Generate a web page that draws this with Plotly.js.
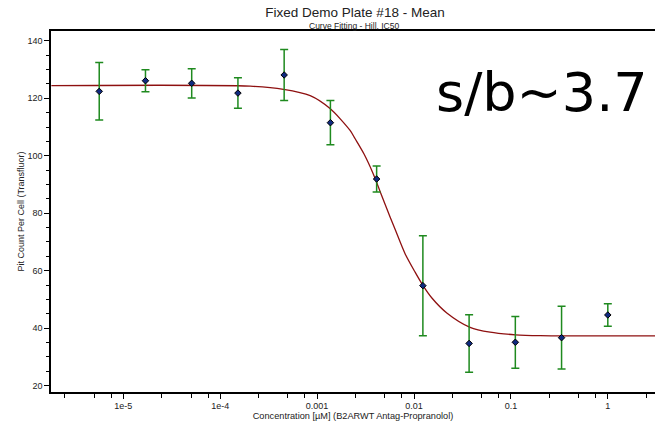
<!DOCTYPE html>
<html><head><meta charset="utf-8">
<script src="https://cdn.plot.ly/plotly-3.0.1.min.js"></script>
<style>html,body{margin:0;padding:0;background:#fff}#chart{width:655px;height:423px}</style>
</head><body><div id="chart"></div>
<script>
// Measured points (mean ± error) — concentration in µM
const concentration = [5.645e-6, 1.694e-5, 5.081e-5, 1.524e-4, 4.572e-4, 1.372e-3, 4.115e-3, 1.235e-2, 3.704e-2, 0.1111, 0.3333, 1];
const meanValue = [122.4, 126.1, 125.2, 121.8, 128.1, 111.5, 91.9, 54.8, 34.7, 35.1, 36.7, 44.6];
const errorValue = [10.0, 3.8, 5.1, 5.3, 8.9, 7.7, 4.5, 17.4, 10.0, 9.0, 10.9, 3.9];

// Fitted Hill curve
const fitConc = [1.81e-6, 2.04e-4, 4.50e-4, 8.49e-4, 1.36e-3, 2.19e-3, 2.47e-3, 3.05e-3, 3.81e-3, 4.13e-3, 5.04e-3, 6.38e-3, 8.09e-3, 1.03e-2, 1.23e-2, 1.53e-2, 2.18e-2, 3.79e-2, 6.10e-2, 0.111, 0.200, 3.07];
const fitValue = [124.4, 124.2, 123.1, 120.9, 116.4, 108.8, 105.9, 100.6, 93.6, 90.6, 83.0, 74.4, 65.9, 59.4, 55.0, 50.5, 45.3, 40.3, 38.6, 37.7, 37.4, 37.3];

// Tick labels
const xTickVals = [1e-5, 1e-4, 1e-3, 1e-2, 0.1, 1];
const xTickText = ['1e-5', '1e-4', '0.001', '0.01', '0.1', '1'];
const xMinorVals = [2.5e-6, 5e-6, 7.5e-6, 2.5e-5, 5e-5, 7.5e-5, 2.5e-4, 5e-4, 7.5e-4, 2.5e-3, 5e-3, 7.5e-3, 2.5e-2, 5e-2, 7.5e-2, 0.25, 0.5, 0.75, 2.5];
const yTickVals = [20, 40, 60, 80, 100, 120, 140];
const yMinorVals = [25, 30, 35, 45, 50, 55, 65, 70, 75, 85, 90, 95, 105, 110, 115, 125, 130, 135];

const titleText = 'Fixed Demo Plate #18 - Mean';
const subtitleText = 'Curve Fitting - Hill, IC50';
const xTitle = 'Concentration [µM] (B2ARWT Antag-Propranolol)';
const yTitle = 'Pit Count Per Cell (Transfluor)';
const noteText = 's/b~3.7';

const sans = 'Liberation Sans, Arial, sans-serif';

const traces = [
  {
    x: fitConc, y: fitValue, type: 'scatter', mode: 'lines',
    line: {color: '#8e1010', width: 1.3, shape: 'spline', smoothing: 0.8},
    hoverinfo: 'skip', showlegend: false
  },
  {
    x: concentration, y: meanValue, type: 'scatter', mode: 'markers',
    marker: {symbol: 'diamond', size: 5, color: '#0f2a80', line: {color: '#000', width: 1}},
    error_y: {type: 'data', array: errorValue, visible: true, color: '#1f8a1f', thickness: 1.5, width: 4},
    showlegend: false
  }
];

const layout = {
  width: 655, height: 423,
  margin: {l: 51, r: 0, t: 31, b: 31},
  paper_bgcolor: '#fff', plot_bgcolor: '#fff',
  showlegend: false,
  title: {
    text: titleText, font: {family: sans, size: 13.5, color: '#222'},
    x: 355 / 655, xref: 'container', xanchor: 'center',
    y: 1 - 12.5 / 423, yref: 'container', yanchor: 'middle'
  },
  xaxis: {
    type: 'log', range: [-5.746, 0.487],
    tickmode: 'array', tickvals: xTickVals, ticktext: xTickText,
    ticks: 'outside', ticklen: 5, tickwidth: 1, tickcolor: '#000',
    minor: {tickmode: 'array', tickvals: xMinorVals, ticks: 'outside', ticklen: 4, tickwidth: 1, tickcolor: '#000', showgrid: false},
    showline: true, linecolor: '#000', linewidth: 1.6, mirror: true,
    showgrid: false, zeroline: false,
    tickfont: {family: sans, size: 9, color: '#222'},
    title: {text: xTitle, font: {family: sans, size: 9.2, color: '#222'}, standoff: 2}
  },
  yaxis: {
    range: [17.8, 143.4],
    tickmode: 'array', tickvals: yTickVals,
    ticks: 'outside', ticklen: 5, tickwidth: 1, tickcolor: '#000',
    minor: {tickmode: 'array', tickvals: yMinorVals, ticks: 'outside', ticklen: 3, tickwidth: 1, tickcolor: '#000', showgrid: false},
    showline: true, linecolor: '#000', linewidth: 1.6,
    showgrid: false, zeroline: false,
    tickfont: {family: sans, size: 9, color: '#222'},
    title: {text: yTitle, font: {family: sans, size: 9, color: '#222'}, standoff: 1}
  },
  annotations: [
    {text: subtitleText, xref: 'paper', yref: 'paper', x: 0.5017, y: 1.015, xanchor: 'center', yanchor: 'middle',
     showarrow: false, font: {family: sans, size: 8.5, color: '#222'}},
    {text: noteText, xref: 'paper', yref: 'paper', x: 0.813, y: 0.831, xanchor: 'center', yanchor: 'middle',
     showarrow: false, font: {family: 'DejaVu Sans, Verdana, sans-serif', size: 54, color: '#000'}}
  ]
};

Plotly.newPlot('chart', traces, layout, {displayModeBar: false, staticPlot: true});
</script>
</body></html>
